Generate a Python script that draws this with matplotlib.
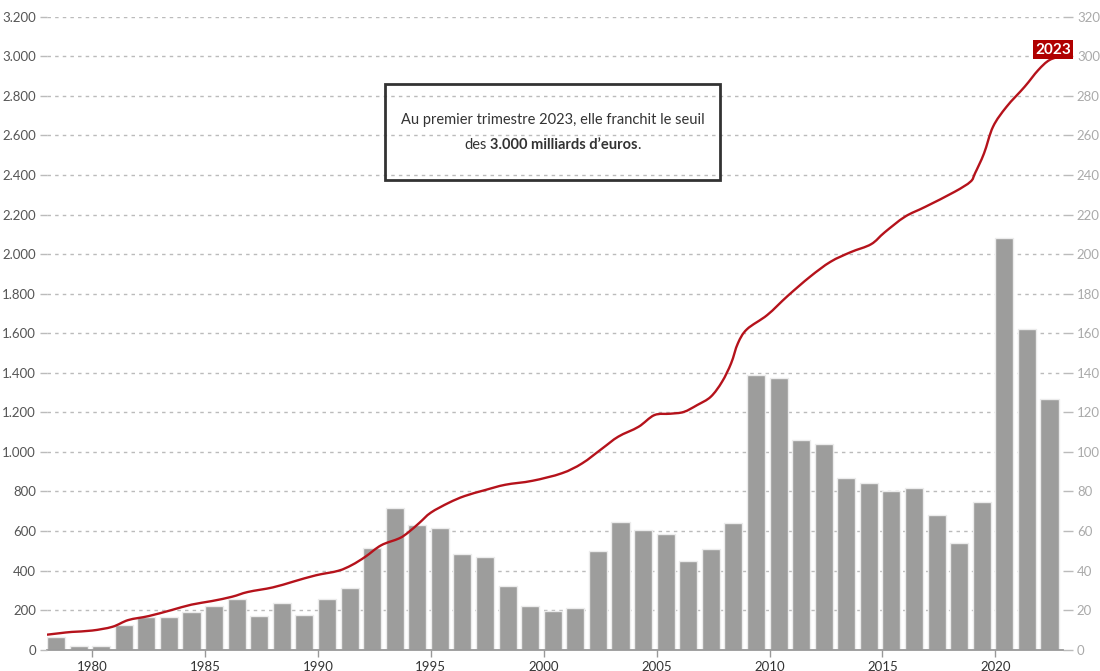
import matplotlib.pyplot as plt
from matplotlib.patches import Rectangle, PathPatch
from matplotlib.path import Path
from matplotlib.ticker import FuncFormatter

# yearly increase of the debt (billions, right axis)
years = list(range(1978, 2023))
increase = [6.5, 2, 2, 12.3, 16.5, 16.5, 19.2, 22.3, 25.8, 17.2, 23.5, 17.7,
            25.5, 31, 51.5, 71.8, 63.3, 61.5, 48.5, 46.7, 32, 22.3, 19.5, 21,
            49.7, 64.8, 60.5, 58.7, 44.8, 50.7, 64.3, 139.1, 137.5, 106.2,
            104.2, 86.9, 84.2, 80.2, 81.7, 68, 54.2, 74.7, 208.2, 162.3, 126.9]

# total debt (billions, left axis)
debt_t = [1978.0, 1978.6, 1979.1, 1980.0, 1980.9, 1981.6, 1982.5, 1983.5,
          1984.4, 1985.3, 1986.2, 1986.9, 1988.0, 1988.9, 1989.9, 1990.9,
          1991.5, 1992.1, 1992.8, 1993.6, 1994.0, 1994.5, 1995.0, 1995.8,
          1996.5, 1997.4, 1998.3, 1999.5, 2000.8, 2001.7, 2002.6, 2003.3,
          2004.2, 2004.9, 2005.6, 2006.2, 2006.8, 2007.4, 2007.9, 2008.3,
          2008.6, 2009.0, 2009.9, 2010.8, 2011.8, 2012.7, 2013.6, 2014.5,
          2015.1, 2016.0, 2016.9, 2018.2, 2018.9, 2019.1, 2019.5, 2019.9,
          2020.5, 2021.3, 2021.9, 2022.4, 2023.0]
debt = [76, 84, 90, 97, 116, 150, 170, 200,
        228, 246, 268, 292, 315, 344, 376, 399,
        428, 470, 528, 563, 593, 642, 693, 743,
        777, 807, 834, 854, 892, 942, 1018, 1077,
        1127, 1186, 1193, 1202, 1237, 1279, 1355, 1448,
        1549, 1620, 1692, 1788, 1886, 1961, 2010, 2050,
        2110, 2189, 2239, 2315, 2366, 2408, 2509, 2644,
        2745, 2846, 2930, 2981, 3003]


def smooth_path(xs, ys):
    """Catmull-Rom curve through the points, as cubic bezier segments."""
    verts = [(xs[0], ys[0])]
    codes = [Path.MOVETO]
    n = len(xs)
    for i in range(n - 1):
        x0, y0 = (xs[i - 1], ys[i - 1]) if i > 0 else (xs[i], ys[i])
        x1, y1 = xs[i], ys[i]
        x2, y2 = xs[i + 1], ys[i + 1]
        x3, y3 = (xs[i + 2], ys[i + 2]) if i + 2 < n else (x2, y2)
        c1 = (x1 + (x2 - x0) / 6, y1 + (y2 - y0) / 6)
        c2 = (x2 - (x3 - x1) / 6, y2 - (y3 - y1) / 6)
        verts += [c1, c2, (x2, y2)]
        codes += [Path.CURVE4] * 3
    return Path(verts, codes)


plt.rcParams['font.family'] = ['Lato', 'DejaVu Sans']

fig = plt.figure(figsize=(11, 6.71), dpi=100)
ax = fig.add_axes([0.0427, 0.0317, 0.9237, 0.9434])
ax2 = ax.twinx()

ax.bar([y + 0.4 for y in years], increase, width=0.8, color='#9d9d9c',
       edgecolor='#ececec', linewidth=1, zorder=2)
ax.set_ylim(0, 320)
ax.set_xlim(1978, 2023)
ax.set_yticks(range(0, 321, 20))
ax.yaxis.tick_right()
ax.tick_params(axis='y', length=7, width=1, color='#bbbbbb', labelcolor='#aaaaaa',
               labelsize=9.5, pad=3)
ax.grid(axis='y', color='#bbbbbb', linestyle=(0, (2.5, 3)), linewidth=1)
ax.set_axisbelow(True)
ax.set_xticks(range(1980, 2021, 5))
ax.tick_params(axis='x', length=5, width=1, color='#999999', labelcolor='#333333',
               labelsize=9.5, pad=3)
for s in ['top', 'left', 'right']:
    ax.spines[s].set_visible(False)
ax.spines['bottom'].set_color('#999999')
ax.spines['bottom'].set_linewidth(1.3)

ax2.add_patch(PathPatch(smooth_path(debt_t, debt), fill=False, edgecolor='#b5121b',
                        linewidth=1.7, zorder=5))
ax2.set_ylim(0, 3200)
ax2.set_yticks(range(0, 3201, 200))
ax2.yaxis.tick_left()
ax2.yaxis.set_major_formatter(FuncFormatter(lambda v, p: f'{int(v):,}'.replace(',', '.')))
ax2.tick_params(axis='y', length=5, width=1, color='#bbbbbb', labelcolor='#555555',
                labelsize=9.5, pad=3)
for s in ax2.spines.values():
    s.set_visible(False)

# end label
ax2.annotate('2023', xy=(debt_t[-1], debt[-1]), xytext=(-10, 6),
             textcoords='offset pixels', ha='center', va='center',
             color='white', fontsize=11, fontweight='bold',
             bbox=dict(boxstyle='square,pad=0.15', fc='#b00000', ec='none'),
             zorder=6)

# annotation box
W, H = 1100, 671
fig.patches.append(Rectangle((385 / W, 1 - 180 / H), 335 / W, 96 / H,
                             transform=fig.transFigure, fill=False,
                             edgecolor='#333333', linewidth=2))
fig.text(552.5 / W, 1 - 120 / H, 'Au premier trimestre 2023, elle franchit le seuil',
         ha='center', va='center', fontsize=10.5, color='#333333')

r = fig.canvas.get_renderer()
parts = [('des', 'normal'), ('3.000 milliards d\u2019euros', 'bold'), ('.', 'normal')]
gaps = [3.5, 0]
texts = [fig.text(0, 1 - 145 / H, s, fontsize=10.5, fontweight=w, color='#333333',
                  va='center', ha='left') for s, w in parts]
widths = [t.get_window_extent(r).width for t in texts]
x = 552.5 - (sum(widths) + sum(gaps)) / 2
for t, w, g in zip(texts, widths, gaps + [0]):
    t.set_x(x / W)
    x += w + g

fig.savefig('out.png', dpi=100)
